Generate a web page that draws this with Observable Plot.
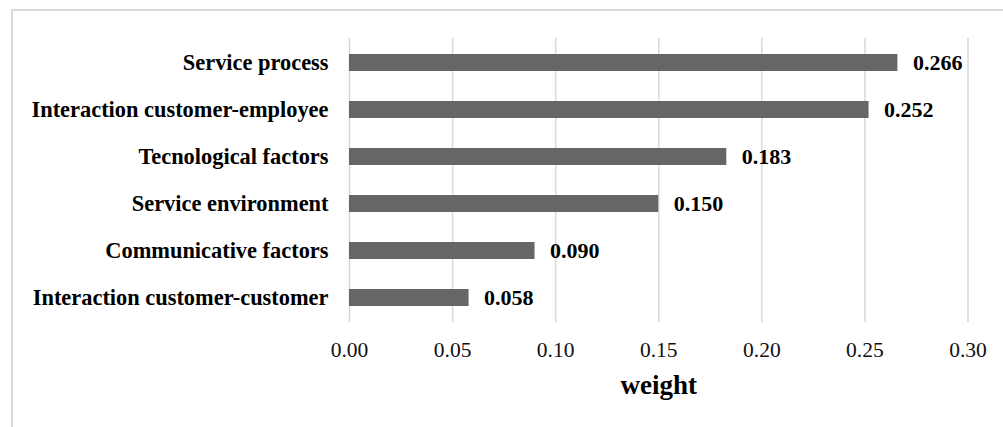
<!DOCTYPE html>
<html>
<head>
<meta charset="utf-8">
<script src="https://cdn.jsdelivr.net/npm/d3@7"></script>
<script src="https://cdn.jsdelivr.net/npm/@observablehq/plot@0.6"></script>
<style>
  html, body { margin: 0; padding: 0; background: #fff; }
  #wrap { position: relative; width: 1003px; height: 427px; overflow: hidden; }
  #border { position: absolute; left: 11px; top: 9px; width: 1100px; height: 600px;
            border-left: 2px solid #d9d9d9; border-top: 2px solid #d9d9d9; box-sizing: border-box; }
  #chart { position: absolute; left: 0; top: 0; }
</style>
</head>
<body>
<div id="wrap"><div id="border"></div><div id="chart"></div></div>
<script>
const categories = [
  "Service process",
  "Interaction customer-employee",
  "Tecnological factors",
  "Service environment",
  "Communicative factors",
  "Interaction customer-customer"
];
const weights = [0.266, 0.252, 0.183, 0.150, 0.090, 0.058];
const xTicks = [0, 0.05, 0.10, 0.15, 0.20, 0.25, 0.30];
const xTitle = "weight";

const data = categories.map((c, i) => ({cat: c, value: weights[i]}));
const font = "'Liberation Serif', 'Times New Roman', serif";

const chart = Plot.plot({
  width: 1003,
  height: 427,
  marginLeft: 349,
  marginRight: 35.5,
  marginTop: 38,
  marginBottom: 105,
  style: {fontFamily: font, background: "transparent", color: "#000"},
  x: {domain: [0, 0.3], ticks: xTicks, tickFormat: d3.format(".2f"), label: null},
  y: {domain: categories, paddingInner: 0.64, paddingOuter: 0.32, label: null},
  marks: [
    Plot.gridX(xTicks, {stroke: "#d9d9d9", strokeOpacity: 1, strokeWidth: 1.5}),
    Plot.barX(data, {x: "value", y: "cat", fill: "#666666"}),
    Plot.text(data, {x: "value", y: "cat", text: d => d3.format(".3f")(d.value),
      dx: 15, textAnchor: "start", fontWeight: "bold", fontSize: 22, fill: "#000"}),
    Plot.axisX({ticks: xTicks, tickSize: 0, tickPadding: 19, fontSize: 21.5, tickFormat: d3.format(".2f"), label: null, fill: "#111"}),
    Plot.axisY({tickSize: 0, tickPadding: 21, fontSize: 22.4, fontWeight: "bold", label: null, fill: "#000"}),
    Plot.text([xTitle], {frameAnchor: "bottom", dy: 71, text: d => d, fontWeight: "bold", fontSize: 27, fill: "#000"})
  ]
});
document.getElementById("chart").appendChild(chart);
</script>
</body>
</html>
